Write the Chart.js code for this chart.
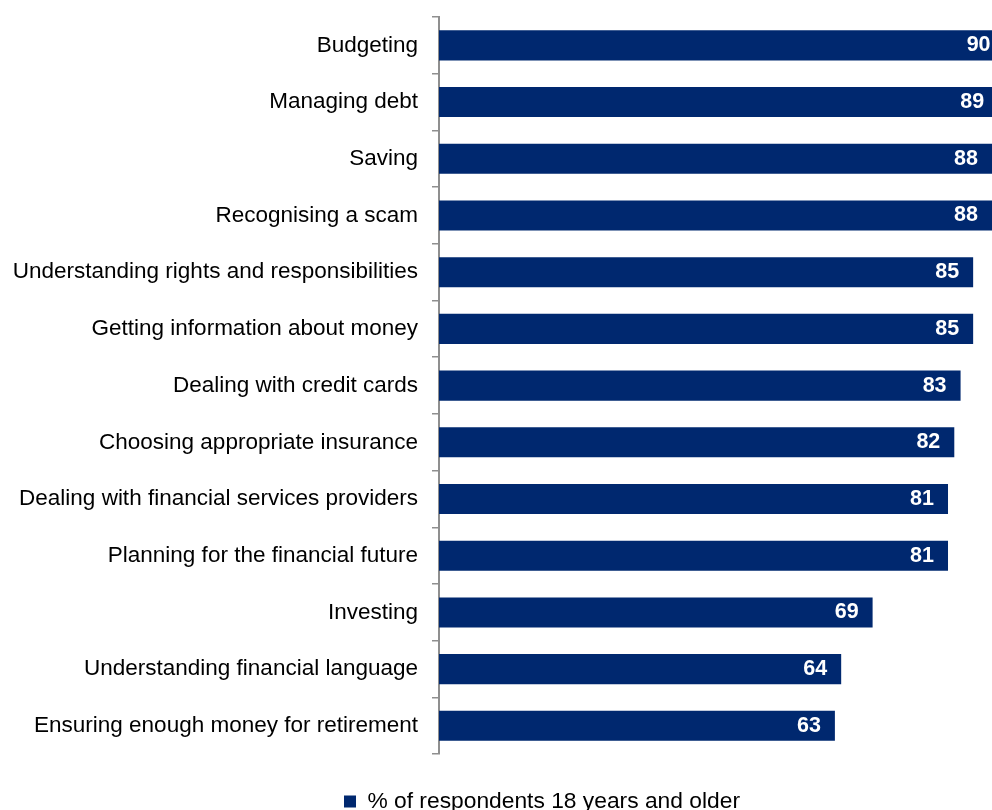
<!DOCTYPE html>
<html>
<head>
<meta charset="utf-8">
<title>Confidence in money skills</title>
<script src="https://cdn.jsdelivr.net/npm/chart.js"></script>
<style>
  html, body { margin: 0; padding: 0; background: #fff; }
  #wrap { position: relative; width: 992px; height: 810px; }
</style>
</head>
<body>
<div id="wrap"><canvas id="skillsChart"></canvas></div>
<script>
// topics, top to bottom
const topics = [
  'Budgeting',
  'Managing debt',
  'Saving',
  'Recognising a scam',
  'Understanding rights and responsibilities',
  'Getting information about money',
  'Dealing with credit cards',
  'Choosing appropriate insurance',
  'Dealing with financial services providers',
  'Planning for the financial future',
  'Investing',
  'Understanding financial language',
  'Ensuring enough money for retirement'
];
const respondents = [90, 89, 88, 88, 85, 85, 83, 82, 81, 81, 69, 64, 63];
const seriesName = '% of respondents 18 years and older';

const NAVY = '#00286f';
const AXIS_GREY = '#8f8f8f';

Chart.defaults.font.family = "'Liberation Sans', Arial, sans-serif";
Chart.defaults.color = '#000';

// white numbers just inside the end of each bar
const barValues = {
  id: 'barValues',
  afterDatasetsDraw(chart) {
    const ctx = chart.ctx;
    const meta = chart.getDatasetMeta(0);
    ctx.save();
    ctx.font = "bold 21.5px 'Liberation Sans', Arial, sans-serif";
    ctx.fillStyle = '#fff';
    ctx.textAlign = 'right';
    ctx.textBaseline = 'middle';
    meta.data.forEach((bar, i) => {
      ctx.fillText(String(respondents[i]), bar.x - 14, bar.y);
    });
    ctx.restore();
  }
};

// push the legend down and a bit right of the canvas centre
const legendPlace = {
  id: 'legendPlace',
  afterLayout(chart) {
    const lg = chart.legend;
    const dx = 46, dy = 36;
    lg.left += dx; lg.right += dx;
    lg.top += dy; lg.bottom += dy;
  }
};

new Chart(document.getElementById('skillsChart'), {
  type: 'bar',
  data: {
    labels: topics,
    datasets: [{
      label: seriesName,
      data: respondents,
      backgroundColor: NAVY,
      borderWidth: 0,
      categoryPercentage: 1,
      barPercentage: 0.53
    }]
  },
  plugins: [barValues, legendPlace],
  options: {
    indexAxis: 'y',
    responsive: true,
    maintainAspectRatio: false,
    animation: false,
    layout: { padding: { top: 17, right: 0, bottom: 23, left: 0 } },
    scales: {
      x: {
        display: false,
        min: 0,
        max: 88
      },
      y: {
        afterFit(scale) {
          scale.width = 439;
          scale.paddingTop = 0;
          scale.paddingBottom = 0;
        },
        border: { display: true, color: AXIS_GREY, width: 2 },
        grid: {
          display: true,
          offset: true,
          drawOnChartArea: false,
          drawTicks: true,
          tickLength: 7,
          color: AXIS_GREY,
          lineWidth: 1.5
        },
        ticks: {
          padding: 14,
          color: '#000',
          font: { size: 22.5 }
        }
      }
    },
    plugins: {
      legend: {
        position: 'bottom',
        labels: {
          boxWidth: 12,
          boxHeight: 12,
          padding: 0,
          color: '#000',
          font: { size: 22.8 }
        }
      },
      tooltip: { enabled: false }
    }
  }
});
</script>
</body>
</html>
